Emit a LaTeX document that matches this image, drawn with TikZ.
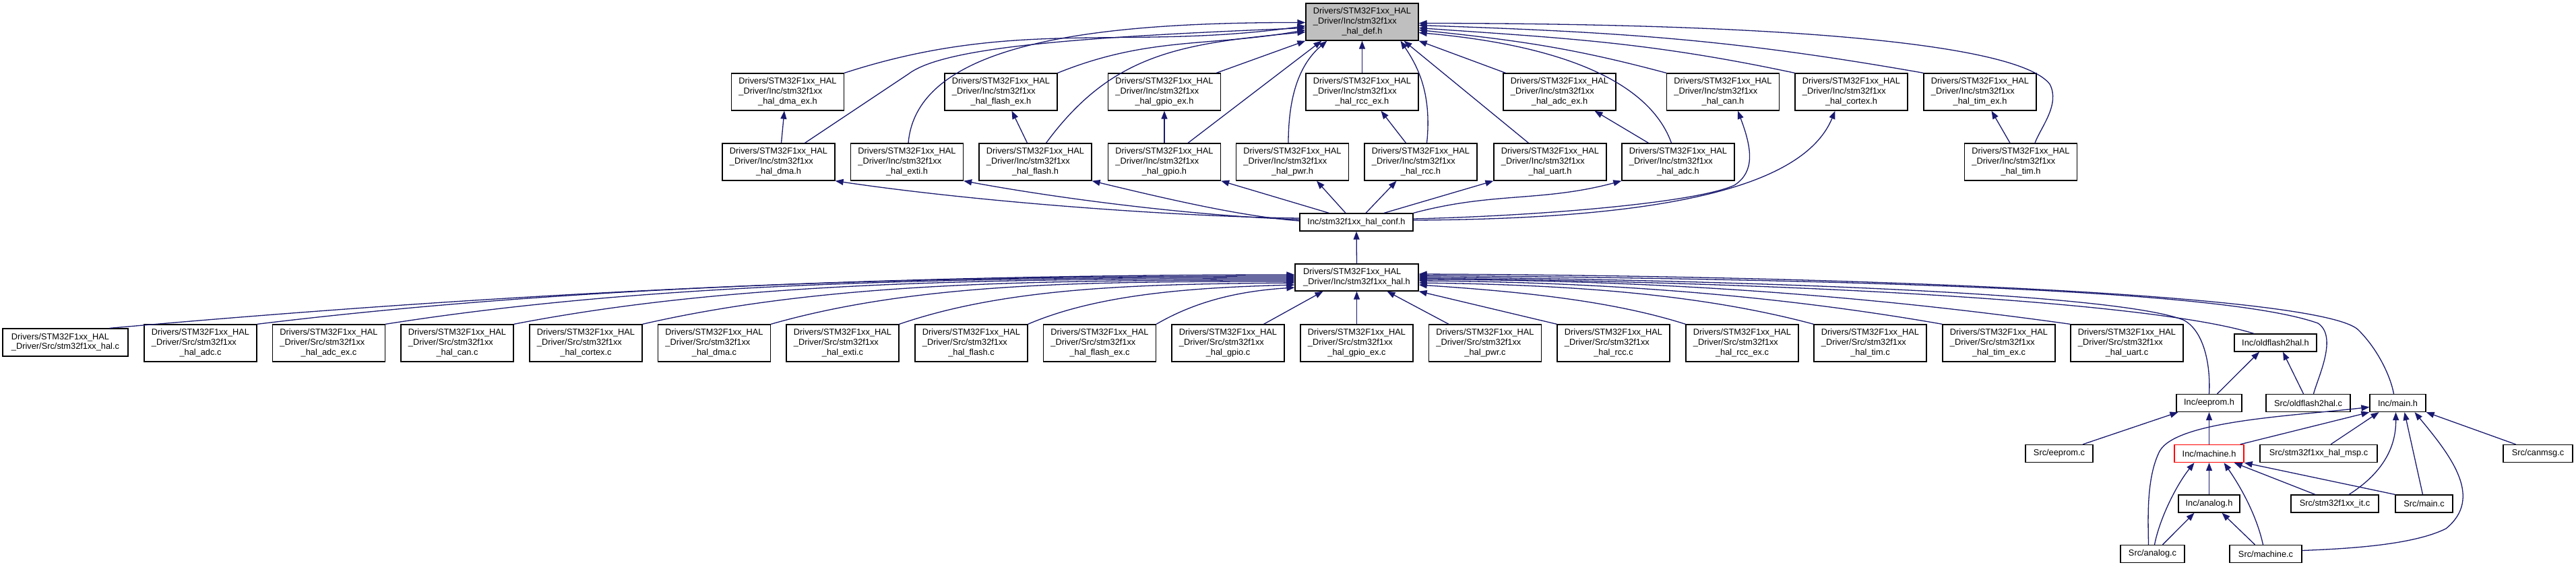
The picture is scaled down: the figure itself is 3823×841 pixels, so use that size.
\documentclass[tikz,border=0pt]{standalone}
\usepackage{fontspec}
\setmainfont{Liberation Sans}
\usetikzlibrary{arrows.meta,calc}
\definecolor{navy}{HTML}{191970}
\definecolor{defgray}{HTML}{BFBFBF}
\newcommand\fs{\fontsize{12.8}{14.8}\selectfont}
\newcommand\tri[3]{\begin{tabular}{@{}l@{}}#1\\#2\\\multicolumn{1}{@{}c@{}}{#3}\end{tabular}}
\newcommand\duo[2]{\begin{tabular}{@{}l@{}}#1\\\multicolumn{1}{@{}c@{}}{#2}\end{tabular}}
\newcommand\hd{Drivers/STM32F1xx\_HAL}
\newcommand\hi{\_Driver/Inc/stm32f1xx}
\newcommand\hs{\_Driver/Src/stm32f1xx}
\begin{document}
\begin{tikzpicture}[x=1pt,y=-1pt,
  box/.style={draw=black,line width=1.3pt,fill=white,inner sep=0pt,font=\fs,minimum height=26pt},
  b3/.style={box,minimum width=167pt,minimum height=55pt},
  edge/.style={draw=navy,line width=1.3pt,{Triangle[length=12pt,width=9pt]}-},
]
\useasboundingbox[fill=white] (0,0) rectangle (3823,841);

% top
\node[b3,fill=defgray] (def) at (2021.5,32.5) {\tri{\hd}{\hi}{\_hal\_def.h}};
% row 2
\node[b3] (dmaex)   at (1169,136.5)   {\tri{\hd}{\hi}{\_hal\_dma\_ex.h}};
\node[b3] (flashex) at (1485.5,136.5) {\tri{\hd}{\hi}{\_hal\_flash\_ex.h}};
\node[b3] (gpioex)  at (1728,136.5)   {\tri{\hd}{\hi}{\_hal\_gpio\_ex.h}};
\node[b3] (rccex)   at (2021.5,136.5) {\tri{\hd}{\hi}{\_hal\_rcc\_ex.h}};
\node[b3] (adcex)   at (2314.5,136.5) {\tri{\hd}{\hi}{\_hal\_adc\_ex.h}};
\node[b3] (can)     at (2557,136.5)   {\tri{\hd}{\hi}{\_hal\_can.h}};
\node[b3] (cortex)  at (2747.5,136.5) {\tri{\hd}{\hi}{\_hal\_cortex.h}};
\node[b3] (timex)   at (2938.5,136.5) {\tri{\hd}{\hi}{\_hal\_tim\_ex.h}};
% row 3
\node[b3] (dma)   at (1155.5,240.5) {\tri{\hd}{\hi}{\_hal\_dma.h}};
\node[b3] (exti)  at (1346,240.5)   {\tri{\hd}{\hi}{\_hal\_exti.h}};
\node[b3] (flash) at (1536.5,240.5) {\tri{\hd}{\hi}{\_hal\_flash.h}};
\node[b3] (gpio)  at (1728,240.5)   {\tri{\hd}{\hi}{\_hal\_gpio.h}};
\node[b3] (pwr)   at (1918,240.5)   {\tri{\hd}{\hi}{\_hal\_pwr.h}};
\node[b3] (rcc)   at (2108.5,240.5) {\tri{\hd}{\hi}{\_hal\_rcc.h}};
\node[b3] (uart)  at (2300.5,240.5) {\tri{\hd}{\hi}{\_hal\_uart.h}};
\node[b3] (adc)   at (2490.5,240.5) {\tri{\hd}{\hi}{\_hal\_adc.h}};
\node[b3] (tim)   at (2999,240.5)   {\tri{\hd}{\hi}{\_hal\_tim.h}};
% conf, hal
\node[box,minimum width=168pt] (conf) at (2013,330) {Inc/stm32f1xx\_hal\_conf.h};
\node[box,minimum width=183pt,minimum height=40pt] (halh) at (2013.5,412) {\duo{\hd}{\_Driver/Inc/stm32f1xx\_hal.h}};
% row 4
\node[box,minimum width=186pt,minimum height=41pt] (halc) at (97,508.5) {\duo{\hd}{\_Driver/Src/stm32f1xx\_hal.c}};
\node[b3] (adcc)     at (297.5,509.5)  {\tri{\hd}{\hs}{\_hal\_adc.c}};
\node[b3] (adcexc)   at (488,509.5)    {\tri{\hd}{\hs}{\_hal\_adc\_ex.c}};
\node[b3] (canc)     at (678.5,509.5)  {\tri{\hd}{\hs}{\_hal\_can.c}};
\node[b3] (cortexc)  at (869.5,509.5)  {\tri{\hd}{\hs}{\_hal\_cortex.c}};
\node[b3] (dmac)     at (1060,509.5)   {\tri{\hd}{\hs}{\_hal\_dma.c}};
\node[b3] (extic)    at (1250.5,509.5) {\tri{\hd}{\hs}{\_hal\_exti.c}};
\node[b3] (flashc)   at (1441.5,509.5) {\tri{\hd}{\hs}{\_hal\_flash.c}};
\node[b3] (flashexc) at (1632,509.5)   {\tri{\hd}{\hs}{\_hal\_flash\_ex.c}};
\node[b3] (gpioc)    at (1822.5,509.5) {\tri{\hd}{\hs}{\_hal\_gpio.c}};
\node[b3] (gpioexc)  at (2013.5,509.5) {\tri{\hd}{\hs}{\_hal\_gpio\_ex.c}};
\node[b3] (pwrc)     at (2204,509.5)   {\tri{\hd}{\hs}{\_hal\_pwr.c}};
\node[b3] (rccc)     at (2394.5,509.5) {\tri{\hd}{\hs}{\_hal\_rcc.c}};
\node[b3] (rccexc)   at (2585.5,509.5) {\tri{\hd}{\hs}{\_hal\_rcc\_ex.c}};
\node[b3] (timc)     at (2775.5,509.5) {\tri{\hd}{\hs}{\_hal\_tim.c}};
\node[b3] (timexc)   at (2966.5,509.5) {\tri{\hd}{\hs}{\_hal\_tim\_ex.c}};
\node[b3] (uartc)    at (3156.5,509.5) {\tri{\hd}{\hs}{\_hal\_uart.c}};
% lower right
\node[box,minimum width=122pt] (oldh)     at (3377,509)     {Inc/oldflash2hal.h};
\node[box,minimum width=97pt]  (eepromh)  at (3278.5,598.5) {Inc/eeprom.h};
\node[box,minimum width=125pt] (oldc)     at (3425.5,598.5) {Src/oldflash2hal.c};
\node[box,minimum width=83pt]  (mainh)    at (3558.5,598.5) {Inc/main.h};
\node[box,minimum width=100pt] (eepromc)  at (3056,673.5)   {Src/eeprom.c};
\node[box,minimum width=103pt,draw=red] (machineh) at (3278.5,673.5) {Inc/machine.h};
\node[box,minimum width=174pt] (mspc)     at (3441,673.5)   {Src/stm32f1xx\_hal\_msp.c};
\node[box,minimum width=103pt] (canmsgc)  at (3766.5,673.5) {Src/canmsg.c};
\node[box,minimum width=91pt]  (analogh)  at (3278.5,748)   {Inc/analog.h};
\node[box,minimum width=130pt] (itc)      at (3465,748)     {Src/stm32f1xx\_it.c};
\node[box,minimum width=85pt]  (mainc)    at (3597.5,748)   {Src/main.c};
\node[box,minimum width=95pt]  (analogc)  at (3194.5,822.5) {Src/analog.c};
\node[box,minimum width=107pt] (machinec) at (3362.5,822.5) {Src/machine.c};

% ---- edges into hal_def
\draw[edge] ($(def.west)+(0,6)$) to[out=188,in=18] (dmaex.north east);
\draw[edge] ($(def.west)+(0,9)$) .. controls (1600,55) and (1400,70) .. (1348,110) -- ($(dma.north)+(39,0)$);
\draw[edge] ($(def.west)+(0,1)$) .. controls (1600,33) and (1360,70) .. ($(exti.north)+(2,0)$);
\draw[edge] ($(def.west)+(0,12)$) to[out=190,in=22] (flashex.north east);
\draw[edge] ($(def.west)+(0,15)$) .. controls (1750,65) and (1650,80) .. ($(flash.north)+(16,0)$);
\draw[edge] (def.south west) -- ($(gpioex.north east)+(-7,0)$);
\draw[edge] ($(def.south west)+(24,0)$) -- ($(gpio.north)+(35,0)$);
\draw[edge] ($(def.south west)+(32,0)$) .. controls (1935,90) and (1912,130) .. ($(pwr.north)+(-6,0)$);
\draw[edge] (def.south) -- (rccex.north);
\draw[edge] ($(def.south)+(57,0)$) .. controls (2105,100) and (2125,140) .. ($(rcc.north)+(9,0)$);
\draw[edge] ($(def.south)+(62,0)$) -- ($(uart.north)+(-32,0)$);
\draw[edge] (def.south east) -- ($(adcex.north west)+(4,0)$);
\draw[edge] ($(def.east)+(0,16)$) .. controls (2260,62) and (2440,100) .. ($(adc.north)+(-10,0)$);
\draw[edge] ($(def.east)+(0,12)$) to[out=-6,in=165] (can.north west);
\draw[edge] ($(def.east)+(0,9)$) to[out=-4,in=168] (cortex.north west);
\draw[edge] ($(def.east)+(0,5)$) to[out=-2,in=170] (timex.north west);
\draw[edge] ($(def.east)+(0,2)$) .. controls (2700,35) and (3000,70) .. (3042,125) .. controls (3058,155) and (3028,190) .. ($(tim.north)+(21,0)$);

% ---- row 2 <- row 3
\draw[edge] ($(dmaex.south)+(-5,0)$) -- ($(dma.north)+(4,0)$);
\draw[edge] ($(flashex.south)+(16,0)$) -- ($(flash.north)+(-12,0)$);
\draw[edge] (gpioex.south) -- (gpio.north);
\draw[edge] ($(rccex.south)+(28,0)$) -- ($(rcc.north)+(-22,0)$);
\draw[edge] ($(adcex.south)+(52,0)$) -- ($(adc.north)+(-44,0)$);
\draw[edge] ($(timex.south)+(17,0)$) -- ($(tim.north)+(-16,0)$);

% ---- row 3 <- conf
\draw[edge] (dma.south east) .. controls (1450,300) and (1750,322) .. ($(conf.west)+(0,-6)$);
\draw[edge] (exti.south east) .. controls (1600,300) and (1800,322) .. ($(conf.west)+(0,-4)$);
\draw[edge] (flash.south east) .. controls (1750,300) and (1850,322) .. ($(conf.west)+(0,-2)$);
\draw[edge] (gpio.south east) -- ($(conf.north west)+(44,0)$);
\draw[edge] ($(pwr.south)+(36,0)$) -- ($(conf.north)+(-16,0)$);
\draw[edge] ($(rcc.south)+(-36,0)$) -- ($(conf.north)+(14,0)$);
\draw[edge] (uart.south west) -- ($(conf.north)+(41,0)$);
\draw[edge] (adc.south west) to[out=195,in=15] (conf.north east);
\draw[edge] ($(can.south)+(22,0)$) .. controls (2600,220) and (2605,255) .. (2574,275) .. controls (2520,300) and (2300,320) .. ($(conf.east)+(0,-5)$);
\draw[edge] ($(cortex.south)+(-24,0)$) .. controls (2680,270) and (2500,325) .. ($(conf.east)+(0,-3)$);

\draw[edge] (conf.south) -- (halh.north);

% ---- hal.h <- row 4 (left)
\draw[edge] ($(halh.west)+(0,-4)$) .. controls +(-690,0) and +(510,-45) .. ($(halc.north east)+(-28,0)$);
\draw[edge] ($(halh.west)+(0,-2)$) .. controls +(-600,0) and +(444,-54) .. (adcc.north east);
\draw[edge] ($(halh.west)+(0,0)$) .. controls +(-527,0) and +(387,-61) .. (adcexc.north east);
\draw[edge] ($(halh.west)+(0,2)$) .. controls +(-452,0) and +(330,-64) .. (canc.north east);
\draw[edge] ($(halh.west)+(0,4)$) .. controls +(-378,0) and +(274,-63) .. (cortexc.north east);
\draw[edge] ($(halh.west)+(0,6)$) .. controls +(-304,0) and +(217,-62) .. (dmac.north east);
\draw[edge] ($(halh.west)+(0,8)$) .. controls +(-230,2) and +(160,-55) .. (extic.north east);
\draw[edge] ($(halh.west)+(0,11)$) .. controls +(-150,4) and +(105,-45) .. (flashc.north east);
\draw[edge] ($(halh.west)+(0,15)$) .. controls +(-80,5) and +(60,-35) .. (flashexc.north east);
\draw[edge] ($(halh.south)+(-50,0)$) -- ($(gpioc.north)+(53,0)$);
\draw[edge] (halh.south) -- (gpioexc.north);
\draw[edge] ($(halh.south)+(45,0)$) -- ($(pwrc.north)+(-54,0)$);
% right
\draw[edge] (halh.south east) -- (rccc.north west);
\draw[edge] ($(halh.east)+(0,11)$) .. controls +(150,10) and +(-110,-35) .. (rccexc.north west);
\draw[edge] ($(halh.east)+(0,8)$) .. controls +(230,3) and +(-164,-44) .. (timc.north west);
\draw[edge] ($(halh.east)+(0,5)$) .. controls +(300,2) and +(-222,-39) .. (timexc.north west);
\draw[edge] ($(halh.east)+(0,3)$) .. controls +(378,1) and +(-278,-39) .. (uartc.north west);
\draw[edge] ($(halh.east)+(0,1)$) .. controls (2700,420) and (3200,450) .. ($(oldh.north)+(-32,0)$);
\draw[edge] ($(halh.east)+(0,-1)$) .. controls (2700,418) and (3150,440) .. (3240,475) .. controls (3270,490) and (3281,540) .. (eepromh.north);
\draw[edge] ($(halh.east)+(0,-3)$) .. controls (2750,415) and (3300,430) .. (3440,480) .. controls (3470,500) and (3440,560) .. ($(oldc.north)+(8,0)$);
\draw[edge] ($(halh.east)+(0,-5)$) .. controls (2800,410) and (3450,440) .. (3500,490) .. controls (3530,520) and (3548,560) .. ($(mainh.north)+(-6,0)$);

% ---- lower right cluster
\draw[edge] ($(oldh.south)+(-24,0)$) -- ($(eepromh.north)+(12,0)$);
\draw[edge] ($(oldh.south)+(11,0)$) -- ($(oldc.north)+(-7,0)$);
\draw[edge] ($(eepromh.south west)+(3,0)$) -- ($(eepromc.north)+(35,0)$);
\draw[edge] (eepromh.south) -- (machineh.north);
\draw[edge] ($(mainh.west)+(0,6)$) .. controls (3400,618) and (3230,625) .. (3205,670) .. controls (3185,710) and (3188,770) .. ($(analogc.north)+(-6,0)$);
\draw[edge] (mainh.south west) -- ($(machineh.north east)+(-6,0)$);
\draw[edge] ($(mainh.south)+(-28,0)$) -- ($(mspc.north)+(18,0)$);
\draw[edge] ($(mainh.south)+(-3,0)$) .. controls (3556,660) and (3540,700) .. ($(itc.north)+(21,0)$);
\draw[edge] ($(mainh.south)+(10,0)$) -- ($(mainc.north)+(-2,0)$);
\draw[edge] ($(mainh.south)+(25,0)$) .. controls (3640,680) and (3685,740) .. (3630,785) .. controls (3580,810) and (3480,815) .. ($(machinec.east)+(0,-5)$);
\draw[edge] (mainh.south east) -- ($(canmsgc.north)+(-33,0)$);
\draw[edge] ($(machineh.south)+(-22,0)$) .. controls (3230,720) and (3205,770) .. ($(analogc.north)+(3,0)$);
\draw[edge] (machineh.south) -- (analogh.north);
\draw[edge] ($(machineh.south)+(22,0)$) .. controls (3330,730) and (3350,770) .. ($(machinec.north)+(-4,0)$);
\draw[edge] ($(machineh.south east)+(-15,0)$) -- ($(itc.north)+(-29,0)$);
\draw[edge] (machineh.south east) -- (mainc.north west);
\draw[edge] ($(analogh.south)+(-22,0)$) -- ($(analogc.north)+(15,0)$);
\draw[edge] ($(analogh.south)+(19,0)$) -- ($(machinec.north)+(-16,0)$);
\end{tikzpicture}
\end{document}
